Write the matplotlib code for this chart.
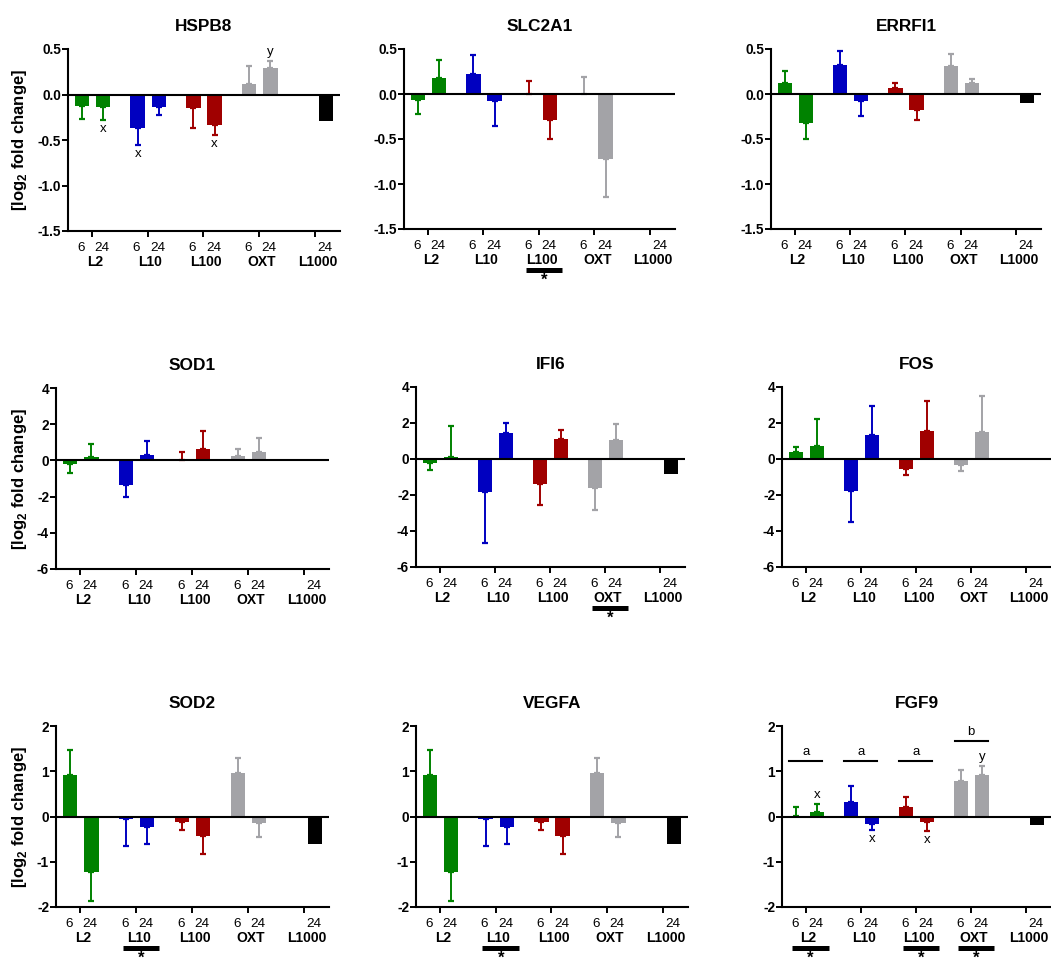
import numpy as np
import matplotlib
matplotlib.use('Agg')
import matplotlib.pyplot as plt

plt.rcParams['font.family'] = ['Liberation Sans', 'DejaVu Sans']
plt.rcParams['mathtext.fontset'] = 'custom'
plt.rcParams['mathtext.rm'] = 'Liberation Sans'
plt.rcParams['mathtext.bf'] = 'Liberation Sans:bold'
plt.rcParams['axes.unicode_minus'] = False

# Bars in order: L2 6/24, L10 6/24, L100 6/24, OXT 6/24, L1000 24
groups = ['L2', 'L10', 'L100', 'OXT', 'L1000']
times = ['6', '24', '6', '24', '6', '24', '6', '24', '24']
bar_group = [0, 0, 1, 1, 2, 2, 3, 3, 4]
colors = ['#008200', '#008200', '#0000c0', '#0000c0', '#a00000', '#a00000',
          '#a3a3a7', '#a3a3a7', '#000000']

genes = ['HSPB8', 'SLC2A1', 'ERRFI1', 'SOD1', 'IFI6', 'FOS', 'SOD2', 'VEGFA', 'FGF9']

hspb8 = [-0.13, -0.14, -0.365, -0.135, -0.145, -0.335, 0.117, 0.29, -0.295]
hspb8_sem = [0.14, 0.14, 0.185, 0.085, 0.225, 0.115, 0.193, 0.08, 0]
slc2a1 = [-0.066, 0.173, 0.224, -0.077, 0.005, -0.294, 0.005, -0.72, np.nan]
slc2a1_sem = [0.151, 0.202, 0.206, 0.28, 0.142, 0.202, 0.185, 0.427, 0]
errfi1 = [0.118, -0.32, 0.32, -0.08, 0.07, -0.176, 0.31, 0.118, -0.096]
errfi1_sem = [0.139, 0.176, 0.154, 0.163, 0.05, 0.118, 0.14, 0.052, 0]
sod1 = [-0.22, 0.2, -1.37, 0.28, 0.02, 0.65, 0.22, 0.46, -0.06]
sod1_sem = [0.45, 0.69, 0.65, 0.81, 0.44, 0.96, 0.43, 0.78, 0]
ifi6 = [-0.2, 0.13, -1.81, 1.44, -1.37, 1.11, -1.59, 1.07, -0.85]
ifi6_sem = [0.43, 1.72, 2.88, 0.56, 1.17, 0.48, 1.24, 0.87, 0]
fos = [0.37, 0.72, -1.8, 1.31, -0.56, 1.57, -0.33, 1.5, -0.07]
fos_sem = [0.32, 1.52, 1.68, 1.65, 0.35, 1.63, 0.32, 2.0, 0]
sod2 = [0.92, -1.235, -0.066, -0.24, -0.13, -0.44, 0.96, -0.147, -0.6]
sod2_sem = [0.55, 0.625, 0.584, 0.36, 0.16, 0.38, 0.33, 0.313, 0]
vegfa = [0.92, -1.235, -0.066, -0.24, -0.13, -0.44, 0.96, -0.147, -0.6]
vegfa_sem = [0.55, 0.625, 0.584, 0.36, 0.16, 0.38, 0.33, 0.313, 0]
fgf9 = [0.01, 0.11, 0.33, -0.17, 0.2, -0.13, 0.79, 0.91, -0.19]
fgf9_sem = [0.19, 0.17, 0.34, 0.13, 0.24, 0.18, 0.23, 0.2, 0]

means = [hspb8, slc2a1, errfi1, sod1, ifi6, fos, sod2, vegfa, fgf9]
sems = [hspb8_sem, slc2a1_sem, errfi1_sem, sod1_sem, ifi6_sem, fos_sem,
        sod2_sem, vegfa_sem, fgf9_sem]

# letters next to bars: (bar index, letter)
letters = {'HSPB8': [(1, 'x'), (2, 'x'), (5, 'x'), (7, 'y')],
           'FGF9': [(1, 'x'), (3, 'x'), (5, 'x'), (7, 'y')]}
# significant groups (underlined with a star)
stars = {'SLC2A1': [2], 'IFI6': [3], 'SOD2': [1], 'VEGFA': [1], 'FGF9': [0, 2, 3]}
# FGF9 group brackets
fgf9_brackets = [(0, 1.23, 'a'), (1, 1.23, 'a'), (2, 1.23, 'a'), (3, 1.67, 'b')]

y_ranges = [(-1.5, 0.5, 0.5)] * 3 + [(-6, 4, 2)] * 3 + [(-2, 2, 1)] * 3

# axes boxes in pixels: left, right, top, bottom
boxes = [(68, 340, 49, 231), (404, 675, 49, 229), (771, 1041, 49, 229),
         (56, 329, 388, 569), (416, 685, 387, 567), (782, 1051, 387, 567),
         (56, 329, 726, 907), (416, 688, 726, 907), (782, 1051, 726, 907)]

W, H = 1051, 967
fig = plt.figure(figsize=(W / 100, H / 100), dpi=100)

offsets = [-0.18, 0.2]
for i, gene in enumerate(genes):
    l, r, t, b = boxes[i]
    ax = fig.add_axes([l / W, 1 - b / H, (r - l) / W, (b - t) / H])
    x = np.array([g + offsets[k % 2] for k, g in enumerate(bar_group)])
    x[8] = 4 + offsets[1]
    m = np.array(means[i], dtype=float)
    s = np.array(sems[i], dtype=float)

    for k in range(len(m)):
        if np.isnan(m[k]):
            continue
        ax.bar(x[k], m[k], width=0.26, color=colors[k], zorder=2)
        if s[k] > 0:
            sign = 1 if m[k] >= 0 else -1
            err = [[0], [s[k]]] if sign > 0 else [[s[k]], [0]]
            ax.errorbar(x[k], m[k], yerr=err, color=colors[k], capsize=2.5,
                        elinewidth=1.4, capthick=1.6, zorder=2)

    ax.axhline(0, color='black', lw=1.5, zorder=3)

    lo, hi, step = y_ranges[i]
    ax.set_ylim(lo, hi)
    ax.set_yticks(np.arange(lo, hi + step / 2, step))
    if step < 1:
        ax.set_yticklabels(['%.1f' % v for v in np.arange(lo, hi + step / 2, step)])
    ax.set_xlim(-0.43, 4.45)
    ax.set_xticks(range(5))
    ax.set_xticklabels([])
    for sp in ['top', 'right']:
        ax.spines[sp].set_visible(False)
    for sp in ['left', 'bottom']:
        ax.spines[sp].set_linewidth(1.5)
    ax.tick_params(direction='out', length=4, width=1.4, labelsize=9.8, pad=1)
    for lab in ax.get_yticklabels():
        lab.set_fontweight('bold')

    ax.set_title(gene, fontsize=12.4, fontweight='bold', pad=13)
    if i % 3 == 0:
        ax.set_ylabel(r'[log$_\mathbf{2}$ fold change]', fontsize=12,
                      fontweight='bold', labelpad=6)

    # time labels and group labels below the axis
    for k in range(len(m)):
        ax.annotate(times[k], xy=(x[k] - 0.02, 0), xycoords=('data', 'axes fraction'),
                    xytext=(0, -12), textcoords='offset points',
                    ha='center', va='center', fontsize=9.7)
    for g, name in enumerate(groups):
        ax.annotate(name, xy=(g + 0.05, 0), xycoords=('data', 'axes fraction'),
                    xytext=(0, -22.5), textcoords='offset points',
                    ha='center', va='center', fontsize=10, fontweight='bold')

    for g in stars.get(gene, []):
        ax.plot([g - 0.24, g + 0.42], [-0.2265, -0.2265], color='black', lw=3.6,
                transform=ax.get_xaxis_transform(), clip_on=False,
                solid_capstyle='butt')
        ax.annotate('*', xy=(g + 0.09, 0), xycoords=('data', 'axes fraction'),
                    xytext=(0, -40.3), textcoords='offset points',
                    ha='center', va='baseline', fontsize=12, fontweight='bold')

    for k, letter in letters.get(gene, []):
        tip = m[k] + s[k] if m[k] >= 0 else m[k] - s[k]
        dy = 6.5 if m[k] >= 0 else -6.5
        ax.annotate(letter, xy=(x[k], tip), xytext=(0, dy), textcoords='offset points',
                    ha='center', va='center', fontsize=9.5)

    if gene == 'FGF9':
        for g, yb, letter in fgf9_brackets:
            ax.plot([g - 0.3, g + 0.3], [yb, yb], color='black', lw=1.5, zorder=3)
            ax.annotate(letter, xy=(g, yb), xytext=(0, 6.5), textcoords='offset points',
                        ha='center', va='center', fontsize=9.5)

fig.savefig('out.png', dpi=100)
